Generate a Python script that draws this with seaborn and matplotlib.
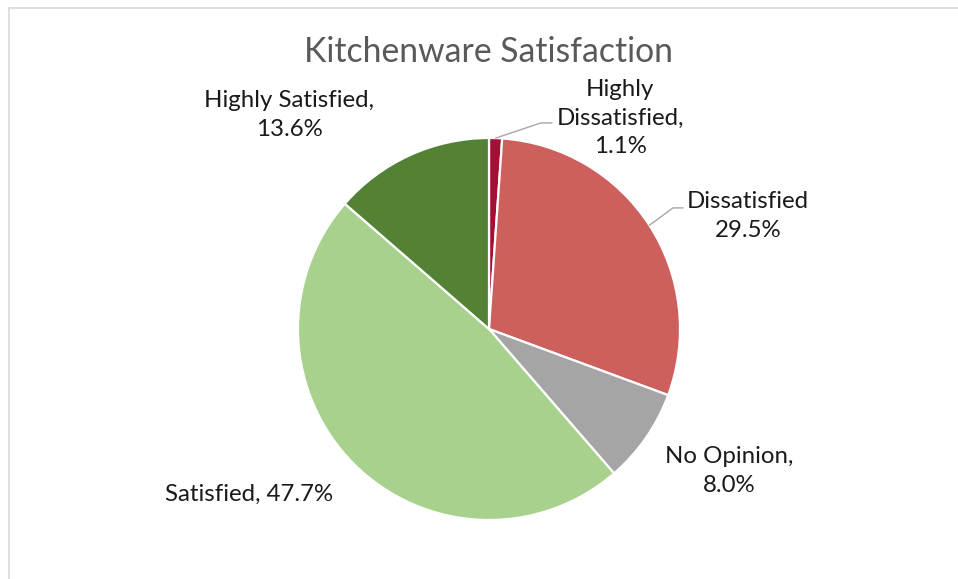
import matplotlib
matplotlib.use("Agg")
import matplotlib.pyplot as plt
import seaborn as sns
import numpy as np

# Kitchenware satisfaction survey - share of answers per category
categories = ["Highly Dissatisfied", "Dissatisfied", "No Opinion", "Satisfied", "Highly Satisfied"]
shares = [1.1, 29.5, 8.0, 47.7, 13.6]
label_texts = ["Highly\nDissatisfied,\n1.1%", "Dissatisfied\n29.5%", "No Opinion,\n8.0%",
               "Satisfied, 47.7%", "Highly Satisfied,\n13.6%"]
colors = ["#A50F35", "#CD605D", "#A5A5A5", "#A9D18E", "#548235"]

sns.set_theme(style="white")
plt.rcParams['font.family'] = ['Lato', 'DejaVu Sans']

fig = plt.figure(figsize=(9.58, 5.79), dpi=100)
fig.patch.set_facecolor("white")

# the pie sits in a square axes, radius 1 in data units
ax = fig.add_axes([298 / 958, 59 / 579, 382 / 958, 382 / 579])
wedges, _ = ax.pie(shares, colors=sns.color_palette(colors), startangle=90, counterclock=False,
                   radius=1, wedgeprops=dict(edgecolor="white", linewidth=1.6))
ax.set_xlim(-1, 1)
ax.set_ylim(-1, 1)
ax.set_aspect("equal")
ax.axis("off")

# label anchor positions (data units of the pie axes)
label_pos = [(0.686, 1.105), (1.356, 0.592), (1.257, -0.743), (-1.257, -0.864), (-1.047, 1.12)]
for txt, (lx, ly) in zip(label_texts, label_pos):
    ax.text(lx, ly, txt, ha="center", va="center", fontsize=17.3, color="#1a1a1a",
            linespacing=1.45, clip_on=False)

# leader lines for the two labels that sit away from their slice
leaders = {0: [(0.272, 1.079), (0.330, 1.079)], 1: [(0.963, 0.634), (1.016, 0.634)]}
for i, pts in leaders.items():
    w = wedges[i]
    mid = np.deg2rad((w.theta1 + w.theta2) / 2)
    xs = [np.cos(mid)] + [p[0] for p in pts]
    ys = [np.sin(mid)] + [p[1] for p in pts]
    ax.plot(xs, ys, color="#A6A6A6", lw=1.0, clip_on=False)

fig.text(489 / 958, 1 - 52 / 579, "Kitchenware Satisfaction", ha="center", va="center",
         fontsize=24.3, color="#595959")

# chart frame: only top and left edges are visible
fig.add_artist(plt.Line2D([8.5 / 958, 8.5 / 958], [0, 1 - 7.5 / 579], transform=fig.transFigure,
                          color="#D9D9D9", lw=1.2))
fig.add_artist(plt.Line2D([8.5 / 958, 1], [1 - 7.5 / 579, 1 - 7.5 / 579], transform=fig.transFigure,
                          color="#D9D9D9", lw=1.2))

fig.savefig("out.png", dpi=100, facecolor="white")
